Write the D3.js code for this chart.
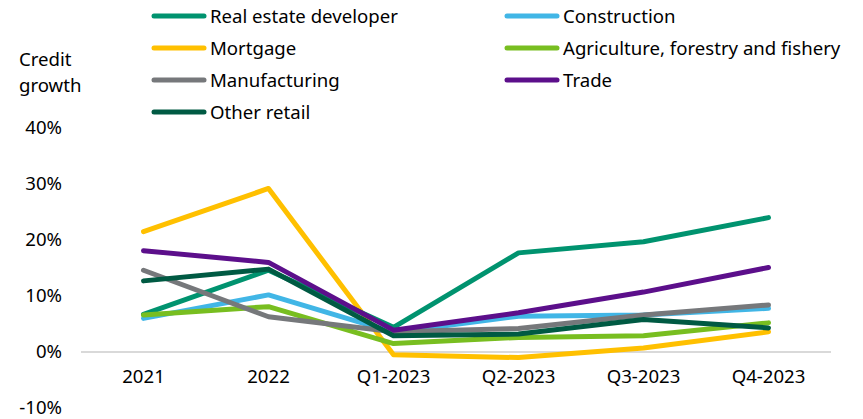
<!DOCTYPE html>
<html>
<head>
<meta charset="utf-8">
<script src="https://cdn.jsdelivr.net/npm/d3@7"></script>
<style>
  html, body { margin: 0; padding: 0; background: #fff; }
  svg { display: block; font-family: "Noto Sans", "Open Sans", sans-serif; }
</style>
</head>
<body>
<svg id="chart" width="863" height="419"></svg>
<script>
const categories = ["2021", "2022", "Q1-2023", "Q2-2023", "Q3-2023", "Q4-2023"];

const realEstate    = [6.7, 14.6, 4.4, 17.7, 19.7, 24.0];
const mortgage      = [21.5, 29.2, -0.5, -1.0, 0.7, 3.6];
const manufacturing = [14.6, 6.3, 3.6, 4.2, 6.6, 8.4];
const otherRetail   = [12.7, 14.8, 2.9, 3.2, 5.8, 4.3];
const construction  = [6.0, 10.2, 3.5, 6.4, 6.6, 7.8];
const agriculture   = [6.6, 8.1, 1.5, 2.6, 2.9, 5.2];
const trade         = [18.1, 16.0, 3.9, 7.0, 10.7, 15.1];

const yTicks = [-10, 0, 10, 20, 30, 40];

const series = [
  { name: "Real estate developer", values: realEstate, color: "#00936f" },
  { name: "Mortgage", values: mortgage, color: "#ffc000" },
  { name: "Manufacturing", values: manufacturing, color: "#76787b" },
  { name: "Other retail", values: otherRetail, color: "#005a43" },
  { name: "Construction", values: construction, color: "#41b6e6" },
  { name: "Agriculture, forestry and fishery", values: agriculture, color: "#78be20" },
  { name: "Trade", values: trade, color: "#5c0f8b" }
];
// Drawing order (back to front)
const drawOrder = ["Mortgage", "Real estate developer", "Construction", "Agriculture, forestry and fishery", "Manufacturing", "Other retail", "Trade"];

const FS = 18.6;
const svg = d3.select("#chart");

const x = d3.scaleBand().domain(categories).range([81, 831]);
const y = d3.scaleLinear().domain([-10, 40]).range([408, 128]);

// Zero line
svg.append("line")
  .attr("x1", 81).attr("x2", 831)
  .attr("y1", y(0)).attr("y2", y(0))
  .attr("stroke", "#d9d9d9").attr("stroke-width", 2);

// Y tick labels
const yAxis = d3.axisLeft(y).tickValues(yTicks).tickFormat(d => d + "%").tickSize(0).tickPadding(0);
const gy = svg.append("g").attr("transform", "translate(62,0)").call(yAxis);
gy.select(".domain").remove();
gy.selectAll("text").attr("font-size", FS).attr("fill", "#000").attr("font-family", "Noto Sans, sans-serif");

// X tick labels
const xAxis = d3.axisBottom(x).tickSize(0).tickPadding(0);
const gx = svg.append("g").attr("transform", "translate(0,370)").call(xAxis);
gx.select(".domain").remove();
gx.selectAll("text").attr("font-size", FS).attr("fill", "#000").attr("font-family", "Noto Sans, sans-serif");

// Axis title
svg.append("text").attr("x", 19).attr("y", 66).attr("font-size", FS).text("Credit");
svg.append("text").attr("x", 19).attr("y", 92).attr("font-size", FS).text("growth");

// Lines
const line = d3.line()
  .x((d, i) => x(categories[i]) + x.bandwidth() / 2)
  .y(d => y(d));

drawOrder.forEach(n => {
  const s = series.find(t => t.name === n);
  svg.append("path")
    .datum(s.values)
    .attr("d", line)
    .attr("fill", "none")
    .attr("stroke", s.color)
    .attr("stroke-width", 5)
    .attr("stroke-linecap", "round")
    .attr("stroke-linejoin", "round");
});

// Legend
const legendPos = [
  [152, 16], [152, 48], [152, 80], [152, 112],
  [505, 16], [505, 48], [505, 80]
];
series.forEach((s, i) => {
  const [lx, ly] = legendPos[i];
  svg.append("line")
    .attr("x1", lx + 2).attr("x2", lx + 52)
    .attr("y1", ly).attr("y2", ly)
    .attr("stroke", s.color).attr("stroke-width", 5)
    .attr("stroke-linecap", "round");
  svg.append("text")
    .attr("x", lx + 58).attr("y", ly)
    .attr("dy", "0.35em")
    .attr("font-size", FS)
    .text(s.name);
});
</script>
</body>
</html>
